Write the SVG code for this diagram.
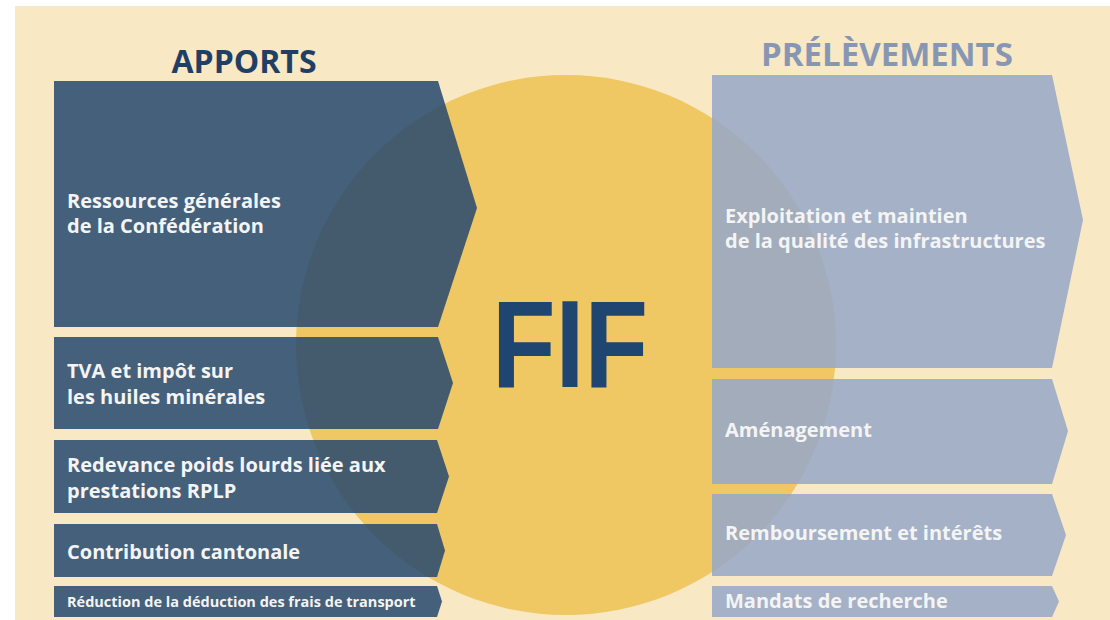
<svg xmlns="http://www.w3.org/2000/svg" width="1110" height="620" viewBox="0 0 1110 620">
  <style>
    .bg { fill: #f8e8c3; }
    .circle { fill: #efc763; }
    .in { fill: #26496e; fill-opacity: 0.86; }
    .out { fill: #97a8c6; fill-opacity: 0.88; }
    .lbl { font-family: "Open Sans", "Liberation Sans", sans-serif; font-weight: 700; font-size: 20px; fill: #f4f4f4; }
    .small { font-size: 14.5px; }
    .title { font-family: "Open Sans", "Liberation Sans", sans-serif; font-weight: 700; font-size: 32px; text-anchor: middle; }
    .fif { font-family: "Liberation Sans", "Open Sans", sans-serif; font-weight: 700; font-size: 125px; fill: #1f4670; }
  </style>
  <rect x="0" y="0" width="1110" height="620" fill="#ffffff"/>
  <rect class="bg" x="15" y="6" width="1095" height="614"/>

  <g id="fif">
    <circle class="circle" cx="566" cy="345" r="270"/>
  </g>

  <text class="title" x="244" y="73" fill="#1f3f66">APPORTS</text>
  <text class="title" x="887" y="66" fill="#8797b3" style="font-size:33px">PRÉLÈVEMENTS</text>

  <g id="apport-ressources">
    <path class="in" d="M54,81 H438 L477,208 L438,327 H54 Z"/>
    <text class="lbl" x="67" y="208">Ressources générales</text>
    <text class="lbl" x="67" y="233">de la Confédération</text>
  </g>
  <g id="apport-tva">
    <path class="in" d="M54,337 H438 L453,383 L438,429 H54 Z"/>
    <text class="lbl" x="67" y="378">TVA et impôt sur</text>
    <text class="lbl" x="67" y="404">les huiles minérales</text>
  </g>
  <g id="apport-rplp">
    <path class="in" d="M54,440 H437 L449,476.5 L437,513 H54 Z"/>
    <text class="lbl" x="67" y="472">Redevance poids lourds liée aux</text>
    <text class="lbl" x="67" y="498">prestations RPLP</text>
  </g>
  <g id="apport-cantons">
    <path class="in" d="M54,524 H437 L445,550.5 L437,577 H54 Z"/>
    <text class="lbl" x="67" y="559">Contribution cantonale</text>
  </g>
  <g id="apport-deduction">
    <path class="in" d="M54,586 H437 L442,601.5 L437,617 H54 Z"/>
    <text class="lbl small" x="67" y="607">Réduction de la déduction des frais de transport</text>
  </g>

  <g id="prelevement-exploitation">
    <path class="out" d="M712,75 H1052 L1083,220 L1052,368 H712 Z"/>
    <text class="lbl" x="725" y="223">Exploitation et maintien</text>
    <text class="lbl" x="725" y="248">de la qualité des infrastructures</text>
  </g>
  <g id="prelevement-amenagement">
    <path class="out" d="M712,379 H1052 L1068,431 L1052,484 H712 Z"/>
    <text class="lbl" x="725" y="437">Aménagement</text>
  </g>
  <g id="prelevement-remboursement">
    <path class="out" d="M712,494 H1052 L1066,535 L1052,576 H712 Z"/>
    <text class="lbl" x="725" y="540">Remboursement et intérêts</text>
  </g>
  <g id="prelevement-recherche">
    <path class="out" d="M712,586 H1052 L1059,601.5 L1052,617 H712 Z"/>
    <text class="lbl" x="725" y="608">Mandats de recherche</text>
  </g>

  <g id="fif-label">
    <text class="fif" x="492" y="387" textLength="156" lengthAdjust="spacingAndGlyphs">FIF</text>
  </g>

  <g id="connectors"/>
</svg>
